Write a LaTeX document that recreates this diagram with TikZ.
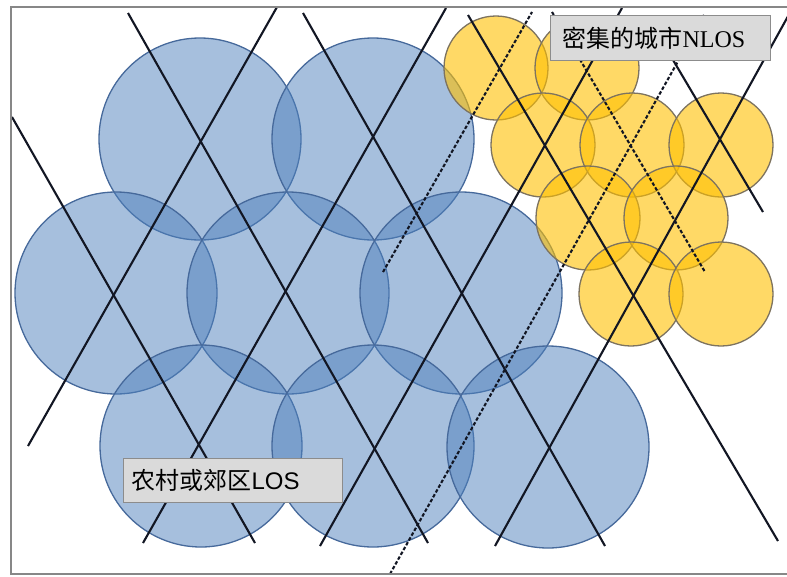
\documentclass[tikz,border=0pt]{standalone}
\usepackage{fontspec}
\setmainfont{Liberation Serif}
\newfontfamily\cjk{Noto Sans CJK SC}
\newfontfamily\lsans{Liberation Sans}
\definecolor{bluefill}{RGB}{79,129,189}
\definecolor{bluedge}{RGB}{70,105,155}
\definecolor{yfill}{RGB}{255,192,0}
\definecolor{yedge}{RGB}{125,115,95}
\definecolor{framegray}{RGB}{135,135,135}
\definecolor{boxfill}{RGB}{218,218,218}
\definecolor{boxedge}{RGB}{140,140,140}
\definecolor{rayblack}{RGB}{18,22,35}
\begin{document}
\begin{tikzpicture}[x=1pt,y=-1pt,
  bluecell/.style={draw=bluedge, line width=1.3pt, fill=bluefill, fill opacity=0.5},
  yellowcell/.style={draw=yedge, line width=1.3pt, fill=yfill, fill opacity=0.6},
  ray/.style={draw=rayblack, line width=2.1pt},
  dashray/.style={draw=rayblack, line width=2.1pt, dash pattern=on 3.5pt off 2pt},
  frameline/.style={draw=framegray, line width=2.2pt},
  labelbox/.style={draw=boxedge, line width=1.2pt, fill=boxfill, font=\fontsize{24}{26}\selectfont, align=left, anchor=north west, minimum height=45pt, inner ysep=0pt}]
\useasboundingbox (0,0) rectangle (787,576);
\fill[white] (0,0) rectangle (787,576);
% blue cells
\foreach \cx/\cy in {200/139,373/139,116/293,288/293,461/293,201/446,373/446,548/447}
  \path[bluecell] (\cx,\cy) circle[radius=101];
% yellow cells
\foreach \cx/\cy in {496/68,587/68,543/145,632/145,721/145,588/218,676/218,631/294,721/294}
  \path[yellowcell] (\cx,\cy) circle[radius=52];
% solid rays
\draw[ray] (12,117) -- (255,543);
\draw[ray] (128,13) -- (428,543);
\draw[ray] (303,13) -- (605,546);
\draw[ray] (468,15) -- (778,541);
\draw[ray] (660,38) -- (763,212);
\draw[ray] (28,446) -- (277,7);
\draw[ray] (143,543) -- (446,8);
\draw[ray] (320,546) -- (622,8);
\draw[ray] (495,546) -- (792,9);
% dashed rays
\draw[dashray] (552,12) -- (705,272);
\draw[dashray] (390,574) -- (704,15);
\draw[dashray] (383,272) -- (532,12);
% frame
\draw[frameline] (790,7) -- (11,7) -- (11,574) -- (790,574);
% labels
\node[labelbox, minimum width=220pt, text width=196pt, inner xsep=12pt] (dense) at (550,15) {{\cjk 密集的城市}NLOS};
\node[labelbox, minimum width=219pt, text width=203pt, inner xsep=8pt, minimum height=44pt] (rural) at (123,458) {{\cjk 农村或郊区}{\lsans LOS}};
\end{tikzpicture}
\end{document}
